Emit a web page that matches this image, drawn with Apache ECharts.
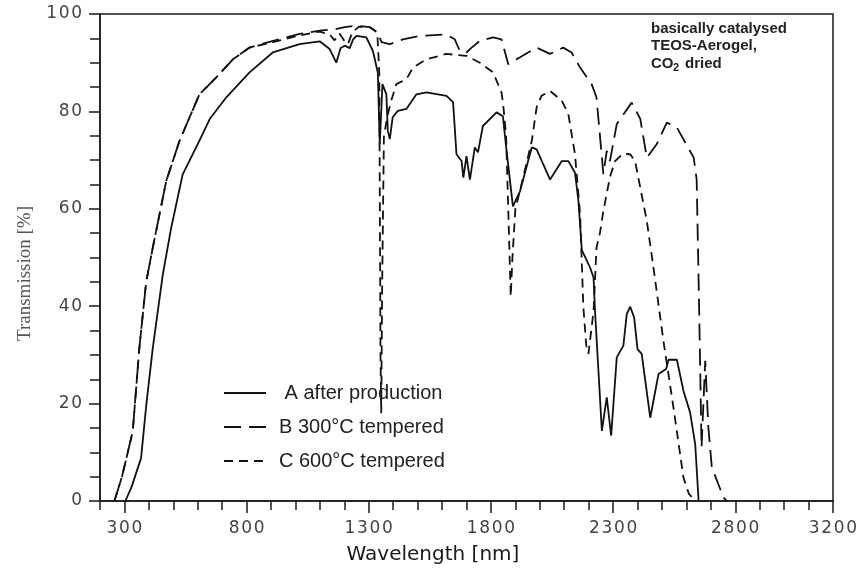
<!DOCTYPE html>
<html>
<head>
<meta charset="utf-8">
<script src="https://cdn.jsdelivr.net/npm/echarts@6/dist/echarts.min.js"></script>
<style>
  html, body { margin: 0; padding: 0; background: #fff; }
  #chart { width: 866px; height: 573px; }
</style>
</head>
<body>
<div id="chart"></div>
<script>
// A after production (solid)
const waveA = [304, 330, 368, 390, 416, 457, 491, 538, 607, 650, 717, 812, 907, 1017, 1099, 1140, 1167, 1185, 1202, 1222, 1236, 1250, 1290, 1317, 1337, 1345, 1356, 1372, 1378, 1386, 1398, 1419, 1454, 1495, 1536, 1618, 1645, 1659, 1680, 1687, 1700, 1714, 1734, 1747, 1767, 1823, 1849, 1864, 1890, 1919, 1967, 1987, 2042, 2090, 2117, 2144, 2158, 2172, 2206, 2220, 2226, 2254, 2274, 2292, 2315, 2342, 2356, 2370, 2386, 2400, 2417, 2452, 2486, 2517, 2527, 2561, 2588, 2615, 2636, 2650]
const transA = [0, 3, 8.8, 20, 31.4, 46.5, 56, 67, 74, 78.5, 82.9, 88, 92.1, 93.8, 94.4, 92.8, 90, 93, 93.5, 93, 94.8, 95.5, 95.2, 92.4, 88, 73.3, 85.6, 83.5, 76, 74.3, 78.8, 80.1, 80.5, 83.5, 83.9, 83.2, 81.9, 71.2, 69.8, 66.4, 70.8, 66, 72.6, 71.6, 77, 79.8, 79, 71.9, 60.5, 63.6, 72.6, 72.2, 66, 69.8, 69.8, 67.4, 61.7, 51.5, 47.9, 45.9, 39, 14.4, 21.3, 13.4, 29.5, 31.9, 38.4, 39.9, 37.7, 31.2, 30.2, 17.1, 26.1, 27.1, 29, 29, 22.6, 18.2, 11.7, 0]

// B 300°C tempered (long dash)
const waveB = [259, 290, 334, 361, 389, 416, 471, 525, 607, 676, 744, 812, 908, 1017, 1099, 1153, 1202, 1250, 1304, 1338, 1352, 1386, 1440, 1509, 1618, 1652, 1673, 1700, 1721, 1755, 1809, 1843, 1871, 1919, 1987, 2042, 2096, 2130, 2165, 2212, 2232, 2253, 2260, 2274, 2287, 2315, 2376, 2411, 2438, 2479, 2520, 2561, 2602, 2630, 2642, 2652, 2662, 2677, 2690, 2704, 2752, 2765]
const transB = [0, 5, 14.3, 31.4, 45, 52, 65.7, 73.9, 83.5, 87, 90.7, 93.1, 94.5, 95.9, 96.6, 96.8, 97.3, 97.6, 97.3, 96.2, 94.2, 93.8, 94.8, 95.5, 95.8, 94.8, 92.4, 92.1, 93.1, 94.5, 95.2, 94.8, 89.7, 91.1, 93.1, 91.8, 93.1, 92.1, 89, 85.6, 82.9, 71.2, 67.1, 71.9, 69.8, 77.4, 81.8, 78.5, 70.5, 73.3, 77.7, 76.7, 73, 70.5, 66, 40, 11, 28.8, 15, 6.9, 0.7, 0]

// C 600°C tempered (short dash)
const waveC = [259, 290, 334, 361, 389, 416, 471, 525, 607, 676, 744, 812, 908, 1017, 1099, 1140, 1160, 1180, 1200, 1215, 1232, 1260, 1304, 1335, 1343, 1348, 1351, 1355, 1362, 1378, 1392, 1413, 1454, 1481, 1536, 1618, 1700, 1755, 1809, 1843, 1850, 1862, 1872, 1881, 1888, 1900, 1930, 1967, 1987, 2007, 2042, 2090, 2117, 2144, 2165, 2178, 2190, 2199, 2220, 2232, 2246, 2260, 2287, 2308, 2340, 2370, 2390, 2411, 2438, 2465, 2506, 2547, 2588, 2610, 2636]
const transC = [0, 5, 14.3, 31.4, 45, 52, 65.7, 73.9, 83.5, 87, 90.7, 93.1, 94.2, 95.6, 96.4, 95.8, 94.6, 96, 94.5, 93.8, 96.2, 97.4, 97.3, 96.2, 88, 30, 18, 45, 75, 79.4, 82.2, 85.6, 86.6, 89, 90.7, 91.8, 91.4, 90, 88, 83.9, 81.5, 75, 58, 42, 50, 60, 66, 73.9, 80.8, 83.2, 84.2, 82.2, 79.4, 71.2, 58.8, 40, 32, 30.2, 39, 52, 55, 59.5, 66.5, 69.8, 71.3, 71.2, 69.8, 64.4, 57.5, 48, 32.9, 19.2, 4.8, 1.5, 0]

const seriesNames = ['A after production', 'B 300°C tempered', 'C 600°C tempered']
const majorTicks = [300, 800, 1300, 1800, 2300, 2800, 3200]
const minorTicks = [200, 300, 400, 500, 600, 700, 800, 900, 1000, 1100, 1200, 1300, 1400, 1500, 1600, 1700, 1800, 1900, 2000, 2100, 2200, 2300, 2400, 2500, 2600, 2700, 2800, 2900, 3000, 3100, 3200]

const pairs = (xs, ys) => xs.map((x, i) => [x, ys[i]])
// spread digits a little, the way the original tick labels look
const spaced = (v) => String(v).split('').join('\u200a')

const ink = '#1a1a1a'
const noteFont = 'bold 15px "Liberation Sans"'
const chart = echarts.init(document.getElementById('chart'))

chart.setOption({
  animation: false,
  grid: {
    left: 100,
    right: 33,
    top: 14,
    bottom: 72,
    show: true,
    borderColor: ink,
    borderWidth: 1.5
  },
  legend: {
    orient: 'vertical',
    left: 218,
    top: 378,
    itemWidth: 42,
    itemHeight: 14,
    itemGap: 14,
    // hide the marker dot, keep only the line sample
    itemStyle: { color: 'rgba(0,0,0,0)', borderColor: 'rgba(0,0,0,0)', borderWidth: 0 },
    textStyle: {
      fontFamily: 'Liberation Sans',
      fontSize: 20,
      color: '#222',
      padding: [0, 0, 0, 8]
    },
    formatter: (name) => (name[0] === 'A' ? ' ' + name : name),
    data: seriesNames
  },
  graphic: [
    {
      type: 'text',
      x: 651,
      y: 21,
      style: { text: 'basically catalysed', font: noteFont, fill: '#222' }
    },
    {
      type: 'text',
      x: 651,
      y: 38,
      style: { text: 'TEOS-Aerogel,', font: noteFont, fill: '#222' }
    },
    {
      type: 'text',
      x: 651,
      y: 56,
      style: { text: 'CO', font: noteFont, fill: '#222' }
    },
    {
      type: 'text',
      x: 673,
      y: 62,
      style: { text: '2', font: 'bold 11px "Liberation Sans"', fill: '#222' }
    },
    {
      type: 'text',
      x: 685,
      y: 56,
      style: { text: 'dried', font: noteFont, fill: '#222' }
    }
  ],
  xAxis: [
    {
      type: 'value',
      min: 200,
      max: 3200,
      splitLine: { show: false },
      axisLine: { lineStyle: { color: ink, width: 1.5 } },
      axisTick: {
        customValues: majorTicks,
        length: 12,
        lineStyle: { color: ink, width: 1.5 }
      },
      axisLabel: {
        customValues: majorTicks,
        margin: 19,
        fontFamily: 'DejaVu Sans',
        fontSize: 17,
        color: '#444',
        formatter: (v) => spaced(v)
      },
      name: 'Wavelength [nm]',
      nameLocation: 'middle',
      nameGap: 44,
      nameTextStyle: {
        fontFamily: 'DejaVu Sans',
        fontSize: 20,
        color: '#1a1a1a',
        padding: [0, 67, 0, 0]
      }
    },
    {
      type: 'value',
      min: 200,
      max: 3200,
      position: 'bottom',
      splitLine: { show: false },
      axisLine: { show: false },
      axisTick: {
        customValues: minorTicks,
        length: 9,
        lineStyle: { color: ink, width: 1.5 }
      },
      axisLabel: { show: false }
    }
  ],
  yAxis: {
    type: 'value',
    min: 0,
    max: 100,
    interval: 20,
    splitLine: { show: false },
    axisLine: { show: true, lineStyle: { color: ink, width: 1.5 } },
    axisTick: { show: true, length: 11, lineStyle: { color: ink, width: 1.5 } },
    minorTick: { show: true, splitNumber: 4, length: 10, lineStyle: { color: ink, width: 1.5 } },
    axisLabel: {
      margin: 18,
      fontFamily: 'DejaVu Sans',
      fontSize: 17,
      color: '#444',
      formatter: (v) => spaced(v)
    },
    name: 'Transmission [%]',
    nameLocation: 'middle',
    nameGap: 65,
    nameTextStyle: {
      fontFamily: 'Liberation Serif',
      fontSize: 19,
      color: '#555',
      padding: [0, 32, 0, 0]
    }
  },
  series: [
    {
      name: seriesNames[0],
      type: 'line',
      showSymbol: false,
      symbol: 'none',
      data: pairs(waveA, transA),
      lineStyle: { color: '#111', width: 1.8, type: 'solid' },
      itemStyle: { color: '#111' }
    },
    {
      name: seriesNames[1],
      type: 'line',
      showSymbol: false,
      symbol: 'none',
      data: pairs(waveB, transB),
      lineStyle: { color: '#111', width: 1.8, type: [17, 8] },
      itemStyle: { color: '#111' }
    },
    {
      name: seriesNames[2],
      type: 'line',
      showSymbol: false,
      symbol: 'none',
      data: pairs(waveC, transC),
      lineStyle: { color: '#111', width: 1.8, type: [9, 6] },
      itemStyle: { color: '#111' }
    }
  ]
})
</script>
</body>
</html>
